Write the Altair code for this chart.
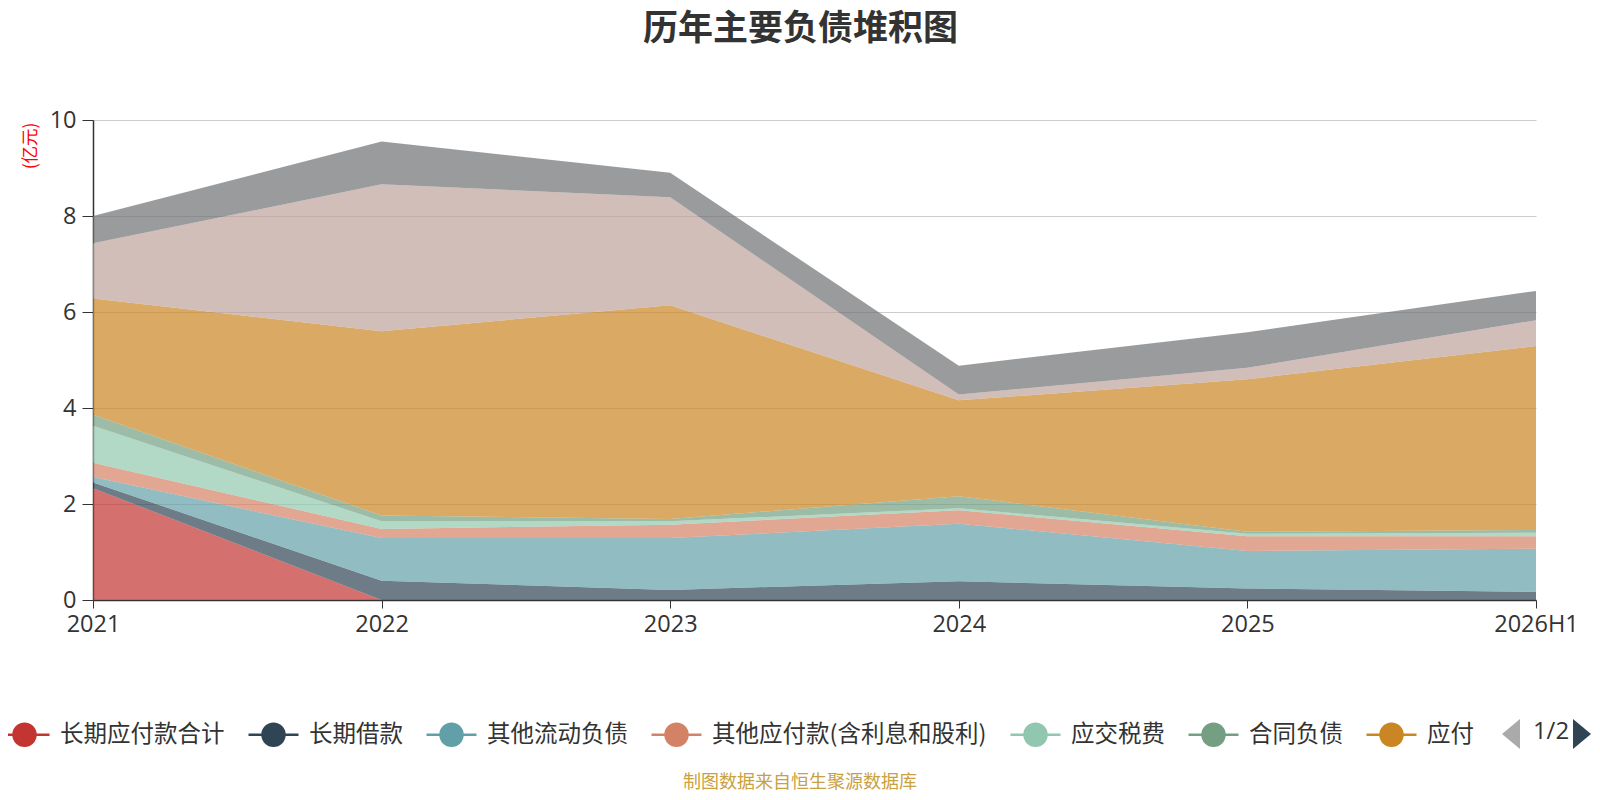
import altair as alt
import pandas as pd

years = ["2021", "2022", "2023", "2024", "2025", "2026H1"]
names = ["长期应付款合计", "长期借款", "其他流动负债", "其他应付款(含利息和股利)",
         "应交税费", "合同负债", "应付票据及应付账款", "短期借款", "应付职工薪酬"]
colors = ["#c23531", "#2f4554", "#61a0a8", "#d48265", "#91c7ae",
          "#749f83", "#ca8622", "#bda29a", "#6e7074"]

s_cqyfk = [2.33, 0.00, 0.00, 0.00, 0.00, 0.00]
s_cqjk = [0.12, 0.40, 0.21, 0.39, 0.24, 0.17]
s_qtldfz = [0.11, 0.89, 1.08, 1.20, 0.78, 0.90]
s_qtyfk = [0.30, 0.19, 0.28, 0.28, 0.31, 0.26]
s_yjsf = [0.77, 0.16, 0.07, 0.04, 0.05, 0.07]
s_htfz = [0.23, 0.12, 0.05, 0.25, 0.04, 0.06]
s_yfpj = [2.42, 3.84, 4.45, 2.00, 3.18, 3.83]
s_dqjk = [1.15, 3.06, 2.25, 0.12, 0.24, 0.54]
s_yfzg = [0.57, 0.89, 0.51, 0.60, 0.74, 0.61]
series = [s_cqyfk, s_cqjk, s_qtldfz, s_qtyfk, s_yjsf, s_htfz, s_yfpj, s_dqjk, s_yfzg]

footer_text = ["制图数据来自恒生聚源数据库"]
pager_text = ["1/2"]
chart_title = "历年主要负债堆积图"
unit_label = "(亿元)"

rows = []
for i, (n, vals) in enumerate(zip(names, series)):
    for yr, v in zip(years, vals):
        rows.append({"year": yr, "name": n, "idx": i, "value": v})
df = pd.DataFrame(rows)

NUM_FONT = "Open Sans, Noto Sans CJK SC, sans-serif"
CJK_FONT = "Noto Sans CJK SC"
sym = "M-1,0L1,0M0.44,0A0.44,0.44,0,1,1,-0.44,0A0.44,0.44,0,1,1,0.44,0Z"

scale = alt.Scale(domain=names, range=colors)
legend = alt.Legend(
    title=None, orient="none", direction="horizontal",
    legendX=-95, legendY=588,
    values=names[:7], symbolType=sym, symbolSize=2500, symbolStrokeWidth=2.5,
    symbolOpacity=1,
    labelFont=CJK_FONT, labelFontSize=23.5, labelColor="#333333", labelLimit=600,
    labelOffset=9, columnPadding=18,
    labelExpr="datum.label == '应付票据及应付账款' ? '应付' : datum.label",
)

area = alt.Chart(df).mark_area(fillOpacity=0.7, strokeWidth=0).encode(
    x=alt.X("year:N", sort=years, scale=alt.Scale(type="point", padding=0),
            axis=alt.Axis(title=None, labelAngle=0, labelFont=NUM_FONT, labelFontSize=23.5,
                          labelColor="#333333", tickSize=8, tickColor="#333333",
                          domainColor="#333333", domainWidth=1.5, labelPadding=4,
                          grid=False)),
    y=alt.Y("value:Q", stack="zero", scale=alt.Scale(domain=[0, 10], nice=False),
            axis=alt.Axis(values=[0, 2, 4, 6, 8, 10], title=unit_label,
                          titleColor="red", titleFont=CJK_FONT, titleFontSize=17.5,
                          titleFontWeight="normal", titleAngle=270, titleX=-63, titleY=2,
                          titleAlign="right", titleBaseline="middle",
                          labelFont=NUM_FONT, labelFontSize=23.5, labelColor="#333333",
                          tickSize=11, tickColor="#333333", labelPadding=6,
                          domainColor="#333333", domainWidth=1.5,
                          grid=True, gridColor="#cccccc", gridWidth=1.2)),
    fill=alt.Fill("name:N", scale=scale, legend=legend),
    stroke=alt.Stroke("name:N", scale=scale, legend=legend),
    order=alt.Order("idx:Q", sort="ascending"),
)

footer = alt.Chart(pd.DataFrame({"t": footer_text})).mark_text(
    font=CJK_FONT, fontSize=18, color="#c9a13f", align="center", baseline="middle"
).encode(text="t:N", x=alt.value(707), y=alt.value(663))

pager = alt.Chart(pd.DataFrame({"t": pager_text})).mark_text(
    font=NUM_FONT, fontSize=24, color="#333333", align="center", baseline="middle"
).encode(text="t:N", x=alt.value(1458), y=alt.value(612))

tri_left = alt.Chart(pd.DataFrame({"t": pager_text})).mark_point(
    shape="M0.6,-1L-0.6,0L0.6,1Z", size=900, filled=True, color="#aaaaaa", opacity=1
).encode(x=alt.value(1418), y=alt.value(614))

tri_right = alt.Chart(pd.DataFrame({"t": pager_text})).mark_point(
    shape="M-0.6,-1L0.6,0L-0.6,1Z", size=900, filled=True, color="#2f4554", opacity=1
).encode(x=alt.value(1489), y=alt.value(614))

chart = alt.layer(area, footer, pager, tri_left, tri_right).properties(
    width=1443, height=480,
    autosize=alt.AutoSizeParams(type="none"),
    padding={"left": 85, "top": 112, "right": 56, "bottom": 192},
    title=alt.TitleParams(text=chart_title, font=CJK_FONT, fontSize=35, fontWeight="bold",
                          color="#333333", anchor="middle", dx=-14, offset=61),
).configure_view(stroke=None)

chart.save("out.html", embed_options={"renderer": "svg", "actions": False})
